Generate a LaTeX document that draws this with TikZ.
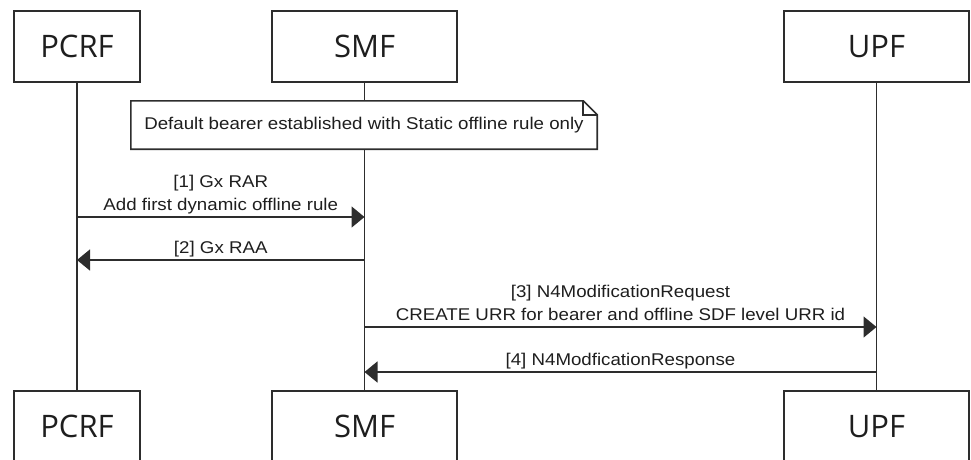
\documentclass[tikz,border=0pt]{standalone}
\usepackage{fontspec}
\setmainfont{Liberation Sans}[FakeStretch=1.1]
\newfontfamily\actorfont{Open Sans}
\usepackage{tikz}
\usetikzlibrary{arrows.meta}
\definecolor{linegray}{RGB}{45,45,45}
\definecolor{textgray}{RGB}{30,30,30}
\tikzset{
  actor/.style={draw=linegray, line width=1.6pt, minimum height=71pt, inner sep=0pt,
    text=textgray, font=\actorfont\fontsize{31}{31}\selectfont},
  lifeline/.style={draw=linegray, line width=1.6pt},
  msg/.style={lifeline, -{Triangle[length=13pt,width=21pt]}},
  msglabel/.style={font=\fontsize{17}{23.5}\selectfont, align=center, text=textgray,
    inner sep=0pt, text depth=0pt, above=5.5pt},
  notebox/.style={fill=white, minimum width=466pt, minimum height=48pt, inner sep=0pt,
    text=textgray, font=\fontsize{17}{20}\selectfont},
}

\begin{document}
\begin{tikzpicture}[x=1pt,y=-1pt]
    \useasboundingbox (0,0) rectangle (971,459);
    \clip (0,0) rectangle (971,459);
    % participants, top and bottom
    \node[actor, minimum width=126pt] (pcrf) at (77,46.5) {PCRF};
    \node[actor, minimum width=185pt] (smf) at (364.5,46.5) {SMF};
    \node[actor, minimum width=185pt] (upf) at (876.5,46.5) {UPF};
    \node[actor, minimum width=126pt] (pcrfb) at (77,426.5) {PCRF};
    \node[actor, minimum width=185pt] (smfb) at (364.5,426.5) {SMF};
    \node[actor, minimum width=185pt] (upfb) at (876.5,426.5) {UPF};
    \draw[lifeline] (pcrf.south) -- (pcrfb.north);
    \draw[lifeline] (smf.south) -- (smfb.north);
    \draw[lifeline] (upf.south) -- (upfb.north);
    % note on SMF
    \node[notebox] (note) at (364,125) {Default bearer established with Static offline rule only};
    \draw[lifeline] (note.north west) -- ([xshift=-14pt]note.north east) -- ([yshift=-14pt]note.north east)
        -- (note.south east) -- (note.south west) -- cycle;
    \draw[lifeline] ([xshift=-14pt]note.north east) |- ([yshift=-14pt]note.north east);
    % message rows
    \foreach \y/\n in {217/1,260/2,327/3,372/4}
        \coordinate (r\n) at (0,\y);
    \draw[msg] (pcrf.south |- r1) -- node[msglabel] (l1) {[1] Gx RAR\\Add first dynamic offline rule} (smf.south |- r1);
    \draw[msg] (smf.south |- r2) -- node[msglabel] (l2) {[2] Gx RAA} (pcrf.south |- r2);
    \draw[msg] (smf.south |- r3) -- node[msglabel] (l3) {[3] N4ModificationRequest\\CREATE URR for bearer and offline SDF level URR id} (upf.south |- r3);
    \draw[msg] (upf.south |- r4) -- node[msglabel] (l4) {[4] N4ModficationResponse} (smf.south |- r4);
\end{tikzpicture}
\end{document}
